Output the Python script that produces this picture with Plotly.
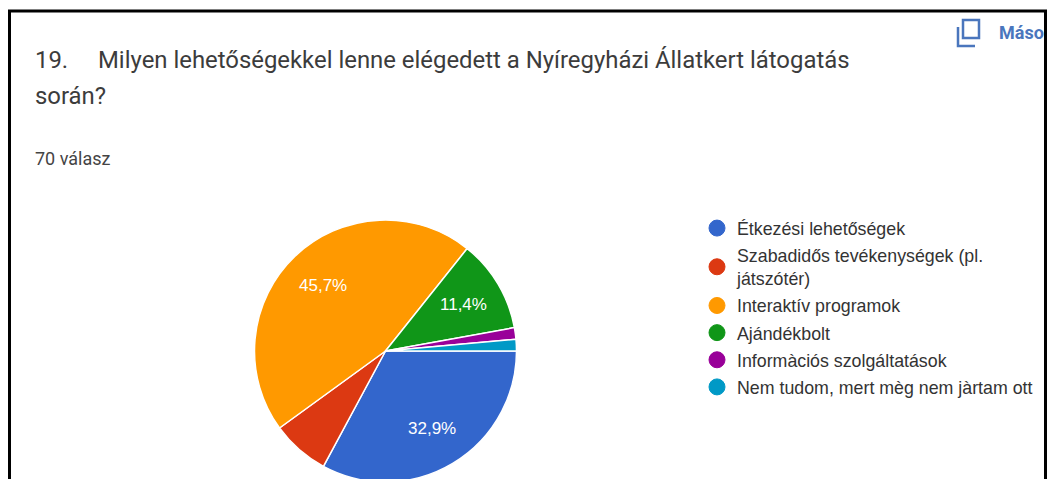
import math

import plotly.graph_objects as go

W, H = 1049, 484

# answers out of 70
categories = ['Étkezési lehetőségek', 'Szabadidős tevékenységek (pl.<br>játszótér)',
              'Interaktív programok', 'Ajándékbolt',
              'Informàciós szolgáltatások', 'Nem tudom, mert mèg nem jàrtam ott']
answers = [23, 5, 32, 8, 1, 1]
colors = ['#3366cc', '#dc3912', '#ff9900', '#109618', '#990099', '#0099c6']

# pie box in pixels
pie_left, pie_right, pie_top, pie_bottom = 254.5, 516.5, 220, 482


def px_x(x):
    return x / W


def px_y(y):
    return 1 - y / H


fig = go.Figure()

fig.add_trace(go.Pie(labels=categories, values=answers, sort=False, direction='clockwise',
                     rotation=90, showlegend=False, textinfo='none',
                     marker=dict(colors=colors, line=dict(color='white', width=1.5)),
                     domain=dict(x=[px_x(pie_left), px_x(pie_right)],
                                 y=[px_y(pie_bottom), px_y(pie_top)])))

# round legend markers, the pie legend only does squares
for name, color in zip(categories, colors):
    fig.add_trace(go.Scatter(x=[None], y=[None], mode='markers', name=name, legendgroup=name,
                             marker=dict(color=color, size=16, symbol='circle',
                                         line=dict(color=color, width=1))))

# slice labels sit at 0.69 of the radius, small slices get none
total = sum(answers)
radius = (pie_right - pie_left) / 2
cx, cy = (pie_left + pie_right) / 2, (pie_top + pie_bottom) / 2
done = 0
for val in answers:
    share = val / total
    mid = 2 * math.pi * (done + val / 2) / total
    done += val
    if share < 0.1:
        continue
    fig.add_annotation(text=f'{share * 100:.1f}%'.replace('.', ','), showarrow=False,
                       xref='paper', yref='paper', xanchor='center', yanchor='middle',
                       x=px_x(cx + 0.69 * radius * math.cos(mid)),
                       y=px_y(cy + 0.69 * radius * math.sin(mid)),
                       font=dict(family='Liberation Sans', size=17, color='white'))

# card frame
fig.add_shape(type='rect', xref='paper', yref='paper', x0=px_x(9.5), x1=px_x(1045.5),
              y0=-0.1, y1=px_y(11), line=dict(color='black', width=3))

# copy icon
icon_color = '#4a76bd'
fig.add_shape(type='rect', xref='paper', yref='paper', x0=px_x(963), x1=px_x(979),
              y0=px_y(38), y1=px_y(20), line=dict(color=icon_color, width=2.5))
fig.add_shape(type='path', xref='paper', yref='paper',
              path=f'M {px_x(958)} {px_y(27)} L {px_x(958)} {px_y(46)} L {px_x(975)} {px_y(46)}',
              line=dict(color=icon_color, width=2.5))


def note(text, x, y, size, color, **kw):
    fig.add_annotation(text=text, xref='paper', yref='paper', x=px_x(x), y=px_y(y), showarrow=False,
                       xanchor='left', yanchor='middle', align='left', borderpad=0,
                       font=dict(family='Roboto', size=size, color=color), **kw)


note('19.', 34, 60, 23.9, '#3c3c3c')
note('Milyen lehetőségekkel lenne elégedett a Nyíregyházi Állatkert látogatás', 97, 60, 23.9, '#3c3c3c')
note('során?', 34, 96, 23.9, '#3c3c3c')
note('70 válasz', 34, 158, 18, '#444444')
note('<b>Máso</b>', 998, 32, 18, '#4a76bd', width=47)

fig.update_layout(
    width=W, height=H, margin=dict(l=0, r=0, t=0, b=0),
    paper_bgcolor='white', plot_bgcolor='white',
    xaxis=dict(visible=False), yaxis=dict(visible=False),
    legend=dict(x=px_x(697), y=px_y(210), xanchor='left', yanchor='top', bgcolor='rgba(0,0,0,0)',
                tracegroupgap=1, itemsizing='trace',
                font=dict(family='Liberation Sans', size=17.8, color='#333333')),
)

fig.write_html('out.html', config=dict(displayModeBar=False),
               post_script="document.body.style.margin='0';document.body.style.overflow='hidden';")
